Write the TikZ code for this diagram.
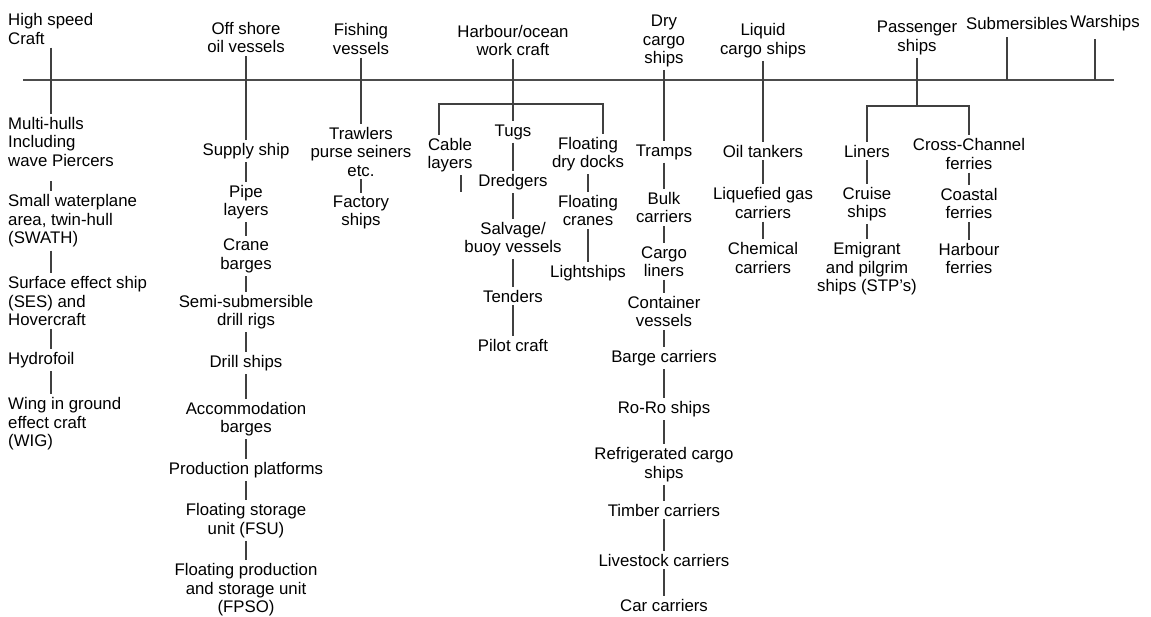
\documentclass[tikz,border=0pt]{standalone}
\usepackage{fontspec}
\setmainfont{Liberation Sans}

\begin{document}
\begin{tikzpicture}[x=1pt,y=-1pt,
    vkind/.style={align=center,inner sep=3pt,text=black,
      font=\fontsize{16.8}{18.5}\selectfont},
    vleft/.style={vkind,align=left,anchor=west},
    tie/.style={draw=black!75,line width=1.6pt},
    spine/.style={draw=black!70,line width=2.6pt}]
\useasboundingbox (0,0) rectangle (1151,616);

% main line
\coordinate (west) at (23,80);
\coordinate (east) at (1114,80);
\draw[spine] (west) -- (east);

% high speed craft
\coordinate (hx) at (51,80);
\node[vleft] (hsc) at (5,29) {High speed\\Craft};
\node[vleft] (mh) at (5,141.5) {Multi-hulls\\Including\\wave Piercers};
\node[vleft] (swath) at (5,221) {Small waterplane\\area, twin-hull\\(SWATH)};
\node[vleft] (ses) at (5,301) {Surface effect ship\\(SES) and\\Hovercraft};
\node[vleft] (hyd) at (5,360) {Hydrofoil};
\node[vleft] (wig) at (5,424) {Wing in ground\\effect craft\\(WIG)};
\draw[tie] (hsc.south -| hx) -- (mh.north -| hx);
\draw[tie,shorten <=12pt] (mh.south -| hx) -- (swath.north -| hx);
\draw[tie] (swath.south -| hx) -- (ses.north -| hx);
\draw[tie] (ses.south -| hx) -- (hyd.north -| hx);
\draw[tie] (hyd.south -| hx) -- (wig.north -| hx);

% off shore oil vessels
\node[vkind] (osv) at (246,37.5) {Off shore\\oil vessels};
\node[vkind] (supply) at (246,151) {Supply ship};
\node[vkind] (pipe) at (246,202) {Pipe\\layers};
\node[vkind] (crane) at (246,256) {Crane\\barges};
\node[vkind] (semi) at (246,312) {Semi-submersible\\drill rigs};
\node[vkind] (drill) at (246,363) {Drill ships};
\node[vkind] (accom) at (246,419) {Accommodation\\barges};
\node[vkind] (prod) at (246,470) {Production platforms};
\node[vkind] (fsu) at (246,520.5) {Floating storage\\unit (FSU)};
\node[vkind] (fpso) at (246,590) {Floating production\\and storage unit\\(FPSO)};
\draw[tie] (osv) -- (supply) -- (pipe) -- (crane) -- (semi) -- (drill)
  -- (accom) -- (prod) -- (fsu) -- (fpso);

% fishing vessels
\node[vkind] (fish) at (361,39) {Fishing\\vessels};
\node[vkind] (trawl) at (361,151.5) {Trawlers\\purse seiners\\etc.};
\node[vkind] (factory) at (361,212.5) {Factory\\ships};
\draw[tie] (fish) -- (trawl) -- (factory);

% harbour/ocean work craft
\node[vkind] (hoc) at (513,40.5) {Harbour/ocean\\work craft};
\node[vkind] (tugs) at (513,132) {Tugs};
\node[vkind] (dredg) at (513,182) {Dredgers};
\node[vkind] (salv) at (513,239) {Salvage/\\buoy vessels};
\node[vkind] (tend) at (513,296) {Tenders};
\node[vkind] (pilot) at (513,345) {Pilot craft};
\node[vkind] (cable) at (450,155) {Cable\\layers};
\node[vkind] (fdd) at (588,154) {Floating\\dry docks};
\node[vkind] (fcr) at (588,210.5) {Floating\\cranes};
\node[vkind] (light) at (588,273) {Lightships};
\coordinate (hbl) at (439,104);
\coordinate (hbr) at (603,104);
\coordinate (cstub) at (461,192);
\draw[tie] (hoc) -- (tugs) -- (dredg) -- (salv) -- (tend) -- (pilot);
\draw[tie] (hbl |- cable.north) -- (hbl) -- (hbr) -- (hbr |- fdd.north);
\draw[tie] (cable.south -| cstub) -- (cstub);
\draw[tie] (fdd) -- (fcr) -- (light);

% dry cargo ships
\node[vkind] (dry) at (664,41) {Dry\\cargo\\ships};
\node[vkind] (tramps) at (664,152) {Tramps};
\node[vkind] (bulk) at (664,207.5) {Bulk\\carriers};
\node[vkind] (cliner) at (664,261.5) {Cargo\\liners};
\node[vkind] (cont) at (664,311.5) {Container\\vessels};
\node[vkind] (barge) at (664,358) {Barge carriers};
\node[vkind] (roro) at (664,409) {Ro-Ro ships};
\node[vkind] (refr) at (664,464.5) {Refrigerated cargo\\ships};
\node[vkind] (timber) at (664,510) {Timber carriers};
\node[vkind] (live) at (664,560) {Livestock carriers};
\node[vkind] (car) at (664,605) {Car carriers};
\draw[tie] (dry) -- (tramps) -- (bulk) -- (cliner) -- (cont) -- (barge)
  -- (roro) -- (refr) -- (timber) -- (live) -- (car);

% liquid cargo ships
\node[vkind] (liq) at (763,40.5) {Liquid\\cargo ships};
\node[vkind] (oil) at (763,151) {Oil tankers};
\node[vkind] (lng) at (763,203) {Liquefied gas\\carriers};
\node[vkind] (chem) at (763,258) {Chemical\\carriers};
\draw[tie] (liq) -- (oil) -- (lng) -- (chem);

% passenger ships
\node[vkind] (pas) at (917,38) {Passenger\\ships};
\node[vkind] (liners) at (867,151) {Liners};
\node[vkind] (cruise) at (867,204) {Cruise\\ships};
\node[vkind] (emig) at (867,269) {Emigrant\\and pilgrim\\ships (STP's)};
\node[vkind] (cross) at (969,154) {Cross-Channel\\ferries};
\node[vkind] (coast) at (969,203.5) {Coastal\\ferries};
\node[vkind] (harb) at (969,258.5) {Harbour\\ferries};
\coordinate (pj) at (917,106);
\draw[tie] (pas) -- (pj);
\draw[tie] (liners) |- (pj) -| (cross);
\draw[tie] (liners) -- (cruise) -- (emig);
\draw[tie] (cross) -- (coast) -- (harb);

% submersibles, warships
\node[vkind] (subm) at (1017,23) {Submersibles};
\node[vkind] (war) at (1105,23) {Warships};
\coordinate (sx) at (1007,80);
\coordinate (wx) at (1095,80);
\draw[tie,shorten <=5pt] (subm.south -| sx) -- (sx);
\draw[tie,shorten <=5pt] (war.south -| wx) -- (wx);
\end{tikzpicture}
\end{document}
